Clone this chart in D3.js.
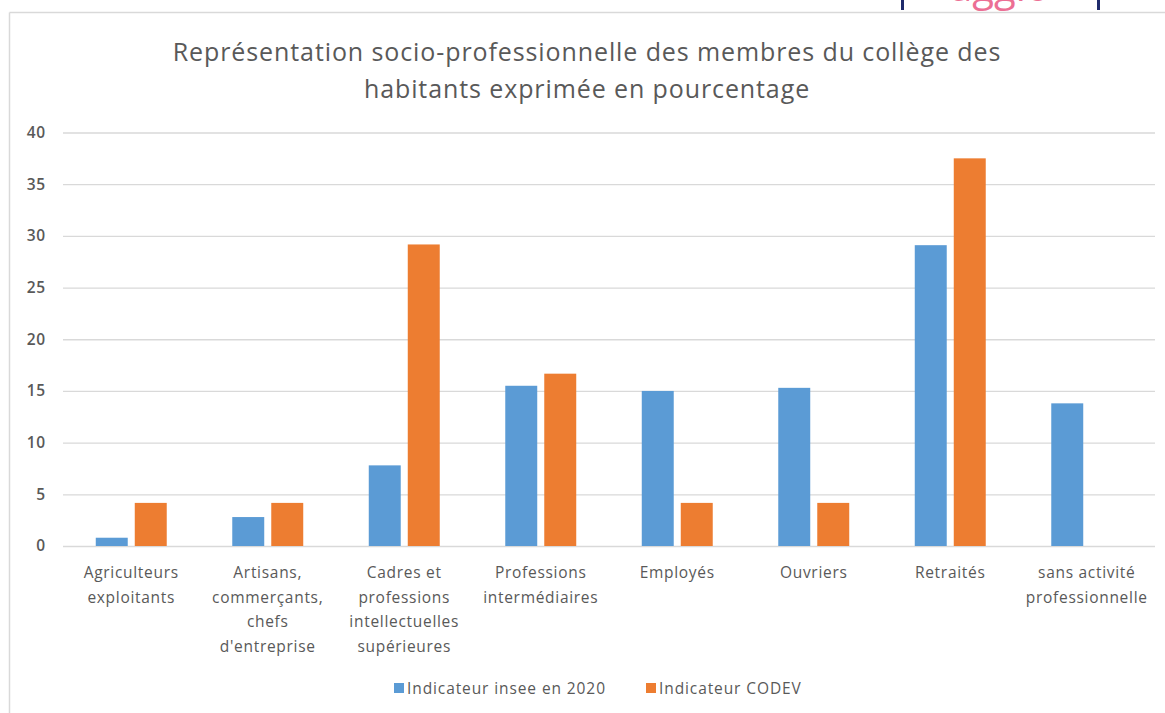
<!DOCTYPE html>
<html>
<head>
<meta charset="utf-8">
<script src="https://cdn.jsdelivr.net/npm/d3@7"></script>
<style>
  html, body { margin: 0; padding: 0; background: #fff; }
  svg { display: block; }
  text { font-family: "Open Sans", Lato, sans-serif; }
</style>
</head>
<body>
<svg id="chart" width="1165" height="713"></svg>
<script>
// ---- data ----
const categories = [
  ["Agriculteurs", "exploitants"],
  ["Artisans,", "commerçants,", "chefs", "d'entreprise"],
  ["Cadres et", "professions", "intellectuelles", "supérieures"],
  ["Professions", "intermédiaires"],
  ["Employés"],
  ["Ouvriers"],
  ["Retraités"],
  ["sans activité", "professionnelle"]
];
const seriesNames = ["Indicateur insee en 2020", "Indicateur CODEV"];
const inseeValues = [0.8, 2.8, 7.8, 15.5, 15.0, 15.3, 29.1, 13.8];
const codevValues = [4.17, 4.17, 29.17, 16.67, 4.17, 4.17, 37.5, 0];
const yTicks = [0, 5, 10, 15, 20, 25, 30, 35, 40];
const titleLines = [
  "Représentation socio-professionnelle des membres du collège des",
  "habitants exprimée en pourcentage"
];

// ---- drawing ----
const colors = ["#5b9bd5", "#ed7d31"];
const textColor = "#595959";
const svg = d3.select("#chart");

// partial logo at the top (cut by the picture edge, as in the source)
const logo = svg.append("g");
logo.append("rect").attr("x", 901).attr("y", 0).attr("width", 3).attr("height", 10).attr("fill", "#1f2a6b");
logo.append("rect").attr("x", 1097).attr("y", 0).attr("width", 3).attr("height", 10).attr("fill", "#1f2a6b");
logo.append("text").attr("x", 1000).attr("y", 1).attr("text-anchor", "middle")
  .attr("font-size", 40).attr("fill", "#ec6f94").text("agglo");

// chart border
svg.append("line").attr("x1", 9.5).attr("x2", 1165).attr("y1", 12.5).attr("y2", 12.5)
  .attr("stroke", "#d9d9d9").attr("stroke-width", 1.5);
svg.append("line").attr("x1", 9.5).attr("x2", 9.5).attr("y1", 12.5).attr("y2", 713)
  .attr("stroke", "#d9d9d9").attr("stroke-width", 1.5);

// title
const title = svg.append("text").attr("text-anchor", "middle").attr("fill", textColor)
  .attr("font-size", 25).attr("letter-spacing", 0.9);
title.selectAll("tspan").data(titleLines).join("tspan")
  .attr("x", 587).attr("y", (d, i) => 61 + i * 37).text(d => d);

// scales
const plotLeft = 63, plotRight = 1155;
const y = d3.scaleLinear().domain([0, 40]).range([546, 132.5]);
const x0 = d3.scaleBand().domain(d3.range(categories.length))
  .range([plotLeft, plotRight]).paddingInner(0.48).paddingOuter(0.24);
const x1 = d3.scaleBand().domain([0, 1]).range([0, x0.bandwidth()])
  .paddingInner(0.18).paddingOuter(0);

// gridlines + y tick labels
const yAxis = d3.axisLeft(y).tickValues(yTicks).tickSize(-(plotRight - plotLeft)).tickPadding(17);
const ga = svg.append("g").attr("transform", `translate(${plotLeft},0)`).call(yAxis);
ga.select(".domain").remove();
ga.selectAll(".tick line").attr("stroke", "#d9d9d9").attr("stroke-width", 1.3);
ga.selectAll(".tick text").attr("fill", textColor).attr("font-size", 15.5)
  .attr("font-weight", "600").attr("letter-spacing", 0.8)
  .attr("font-family", "'Open Sans', sans-serif");

// bars
const data = categories.map((c, i) => ({ i, vals: [inseeValues[i], codevValues[i]] }));
const groups = svg.append("g").selectAll("g").data(data).join("g")
  .attr("transform", d => `translate(${x0(d.i)},0)`);
groups.selectAll("rect").data(d => d.vals.map((v, s) => ({ v, s })))
  .join("rect")
  .attr("x", d => x1(d.s))
  .attr("width", x1.bandwidth())
  .attr("y", d => y(d.v))
  .attr("height", d => y(0) - y(d.v))
  .attr("fill", d => colors[d.s]);

// category labels
const cl = svg.append("g").selectAll("text").data(categories).join("text")
  .attr("text-anchor", "middle").attr("fill", textColor).attr("font-size", 15.5)
  .attr("letter-spacing", 0.7);
cl.each(function (lines, i) {
  d3.select(this).selectAll("tspan").data(lines).join("tspan")
    .attr("x", x0(i) + x0.bandwidth() / 2)
    .attr("y", (d, j) => 578 + j * 24.7)
    .text(d => d);
});

// legend
const legendItems = [
  { name: seriesNames[0], color: colors[0], x: 394 },
  { name: seriesNames[1], color: colors[1], x: 646 }
];
const lg = svg.append("g").selectAll("g").data(legendItems).join("g")
  .attr("transform", d => `translate(${d.x},683)`);
lg.append("rect").attr("width", 10).attr("height", 10).attr("fill", d => d.color);
lg.append("text").attr("x", 13).attr("y", 10.5).attr("fill", textColor)
  .attr("font-size", 15.5).attr("letter-spacing", 0.9).text(d => d.name);
</script>
</body>
</html>
